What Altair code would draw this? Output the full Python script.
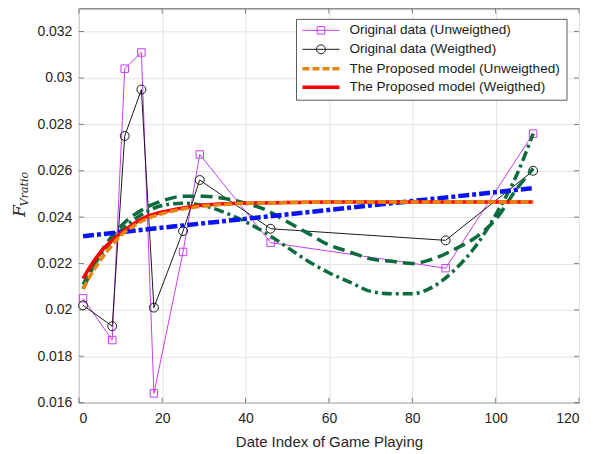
import altair as alt
import pandas as pd

# ---------------- data ----------------
x_data = [1, 8, 11, 15, 18, 25, 29, 46, 88, 109]
unweighted = [0.0205, 0.0187, 0.0304, 0.0311, 0.0164, 0.0225, 0.0267, 0.0229, 0.0218, 0.0276]
weighted = [0.0202, 0.0193, 0.0275, 0.0295, 0.0201, 0.0234, 0.0256, 0.0235, 0.0230, 0.0260]

model_x = [1, 3, 5, 8, 10, 13, 16, 20, 25, 30, 35, 40, 50, 60, 80, 109]
model_weighted = [0.02135, 0.02195, 0.02245, 0.0230, 0.0233, 0.0237, 0.0240, 0.02422, 0.0244,
                  0.02452, 0.02458, 0.0246, 0.02463, 0.02465, 0.02465, 0.02465]
model_unweighted = [0.0209, 0.02155, 0.0221, 0.0228, 0.0232, 0.0236, 0.0239, 0.02415, 0.02435,
                    0.02448, 0.02455, 0.0246, 0.02463, 0.02465, 0.02465, 0.02465]

poly_x = [1, 5, 10, 15, 20, 25, 30, 35, 40, 45, 50, 55, 60, 65, 70, 75, 80, 85, 90, 95, 100, 105, 109]
poly_dashed = [0.0209, 0.0224, 0.0236, 0.0243, 0.0247, 0.0249, 0.0249, 0.0248, 0.0246, 0.0243,
               0.0238, 0.0233, 0.0228, 0.0225, 0.0222, 0.0221, 0.0220, 0.0222, 0.0226, 0.0231,
               0.0239, 0.0252, 0.0261]
poly_dashdot = [0.0211, 0.0223, 0.0234, 0.0241, 0.0245, 0.0246, 0.0245, 0.0242, 0.0238, 0.0233,
                0.0227, 0.0221, 0.0216, 0.0212, 0.0208, 0.0207, 0.0207, 0.0210, 0.0217, 0.0227,
                0.0241, 0.0258, 0.0276]

linear_x = [1, 109]
linear_y = [0.02318, 0.02525]

x_ticks = [0, 20, 40, 60, 80, 100, 120]
y_ticks = [0.016, 0.018, 0.020, 0.022, 0.024, 0.026, 0.028, 0.030, 0.032]

legend_labels = ["Original data (Unweigthed)", "Original data (Weigthed)",
                 "The Proposed model (Unweigthed)", "The Proposed model (Weigthed)"]

# ---------------- styling ----------------
MAG = "#C63DEE"
BLK = "#1A1A1A"
ORANGE = "#E8870E"
RED = "#FF0000"
BLUE = "#0A14F0"
GREEN = "#0B6B3C"
AXC = "#4D4D4D"
FONT = "Liberation Sans"
W, H = 501, 395

x_scale = alt.Scale(domain=[0, 120], nice=False)
y_scale = alt.Scale(domain=[0.016, 0.033], nice=False)

x_enc = alt.X("x:Q", scale=x_scale,
              axis=alt.Axis(values=x_ticks, title="Date Index of Game Playing",
                            labelFontSize=14, titleFontSize=15, titleFontWeight="normal",
                            labelPadding=9, titlePadding=9, ticks=False, domain=False,
                            grid=True, gridColor="#E2E2E2", labelColor="#262626",
                            titleColor="#262626", labelFont=FONT, titleFont=FONT))
y_enc = alt.Y("y:Q", scale=y_scale,
              axis=alt.Axis(values=y_ticks, title="", format="~g",
                            labelFontSize=14, labelPadding=7, ticks=False, domain=False,
                            grid=True, gridColor="#E2E2E2", labelColor="#262626",
                            labelFont=FONT))


def frame(xs, ys):
    return pd.DataFrame({"x": xs, "y": ys})


data_unw = alt.Chart(frame(x_data, unweighted)).mark_line(
    color=MAG, strokeWidth=1,
    point=alt.OverlayMarkDef(shape="square", filled=False, size=56, color=MAG, strokeWidth=1)
).encode(x=x_enc, y=y_enc)

data_w = alt.Chart(frame(x_data, weighted)).mark_line(
    color=BLK, strokeWidth=1,
    point=alt.OverlayMarkDef(shape="circle", filled=False, size=80, color=BLK, strokeWidth=1)
).encode(x=x_enc, y=y_enc)

green1 = alt.Chart(frame(poly_x, poly_dashed)).mark_line(
    color=GREEN, strokeWidth=3.5, strokeDash=[12, 6], interpolate="monotone"
).encode(x=x_enc, y=y_enc)

green2 = alt.Chart(frame(poly_x, poly_dashdot)).mark_line(
    color=GREEN, strokeWidth=3.5, strokeDash=[10, 4, 3, 4], interpolate="monotone"
).encode(x=x_enc, y=y_enc)

blue = alt.Chart(frame(linear_x, linear_y)).mark_line(
    color=BLUE, strokeWidth=4.5, strokeDash=[11, 3, 4, 3]
).encode(x=x_enc, y=y_enc)

red = alt.Chart(frame(model_x, model_weighted)).mark_line(
    color=RED, strokeWidth=3.5, interpolate="monotone"
).encode(x=x_enc, y=y_enc)

orange = alt.Chart(frame(model_x, model_unweighted)).mark_line(
    color=ORANGE, strokeWidth=3.5, strokeDash=[8, 3], interpolate="monotone"
).encode(x=x_enc, y=y_enc)

# ---------------- inward ticks on all four sides (MATLAB style) ----------------
xt = pd.DataFrame({"x": x_ticks})
yt = pd.DataFrame({"y": y_ticks})
tick_layers = []
for ypos in [H - 2.5, 2.5]:
    tick_layers.append(alt.Chart(xt).mark_tick(color=AXC, size=5, thickness=1, orient="vertical").encode(
        x=alt.X("x:Q", scale=x_scale), y=alt.value(ypos)))
for xpos in [2.5, W - 2.5]:
    tick_layers.append(alt.Chart(yt).mark_tick(color=AXC, size=5, thickness=1, orient="horizontal").encode(
        y=alt.Y("y:Q", scale=y_scale), x=alt.value(xpos)))

# ---------------- legend (drawn manually, MATLAB style) ----------------
one = pd.DataFrame({"a": [0]})
LX0, LX1, LY0, LY1 = 218, 489, 11, 92
entry_y = [22, 41, 60.5, 79]
sym_x0, sym_x1, sym_mid, txt_x = 224, 261, 242.5, 271

legend_layers = [
    alt.Chart(one).mark_rect(fill="white", stroke="#333333", strokeWidth=0.8).encode(
        x=alt.value(LX0), x2=alt.value(LX1), y=alt.value(LY0), y2=alt.value(LY1))
]
styles = [
    dict(color=MAG, strokeWidth=1),
    dict(color=BLK, strokeWidth=1),
    dict(color=ORANGE, strokeWidth=3.5, strokeDash=[7, 3]),
    dict(color=RED, strokeWidth=3.5),
]
markers = [("square", MAG, 56), ("circle", BLK, 80), None, None]
for i, lab in enumerate(legend_labels):
    legend_layers.append(
        alt.Chart(one).mark_rule(**styles[i]).encode(
            x=alt.value(sym_x0), x2=alt.value(sym_x1), y=alt.value(entry_y[i])))
    if markers[i]:
        shp, col, sz = markers[i]
        legend_layers.append(
            alt.Chart(one).mark_point(shape=shp, filled=False, size=sz, color=col,
                                      strokeWidth=1, opacity=1).encode(
                x=alt.value(sym_mid), y=alt.value(entry_y[i])))
    legend_layers.append(
        alt.Chart(one).mark_text(align="left", baseline="middle", fontSize=13.6, font=FONT,
                                 color="#1A1A1A").encode(
            x=alt.value(txt_x), y=alt.value(entry_y[i]), text=alt.value(lab)))

# ---------------- y axis title  F_{V ratio} ----------------
ytitle_F = alt.Chart(one).mark_text(angle=270, align="center", baseline="alphabetic",
                                    fontSize=17, font="DejaVu Serif", fontStyle="italic",
                                    color="#262626").encode(
    x=alt.value(-54), y=alt.value(203), text=alt.value("F"))
ytitle_sub = alt.Chart(one).mark_text(angle=270, align="center", baseline="alphabetic",
                                      fontSize=11, font="DejaVu Serif", fontStyle="italic",
                                      color="#262626").encode(
    x=alt.value(-51), y=alt.value(181), text=alt.value("Vratio"))

chart = alt.layer(
    data_unw, data_w, green1, green2, blue, red, orange,
    *tick_layers, *legend_layers, ytitle_F, ytitle_sub
).properties(
    width=W, height=H,
    autosize=alt.AutoSizeParams(type="none"),
    padding={"left": 71, "top": 0, "right": 6, "bottom": 50},
).configure_view(stroke=AXC, strokeWidth=1)

chart.save("out.html", embed_options={"renderer": "svg", "actions": False})
